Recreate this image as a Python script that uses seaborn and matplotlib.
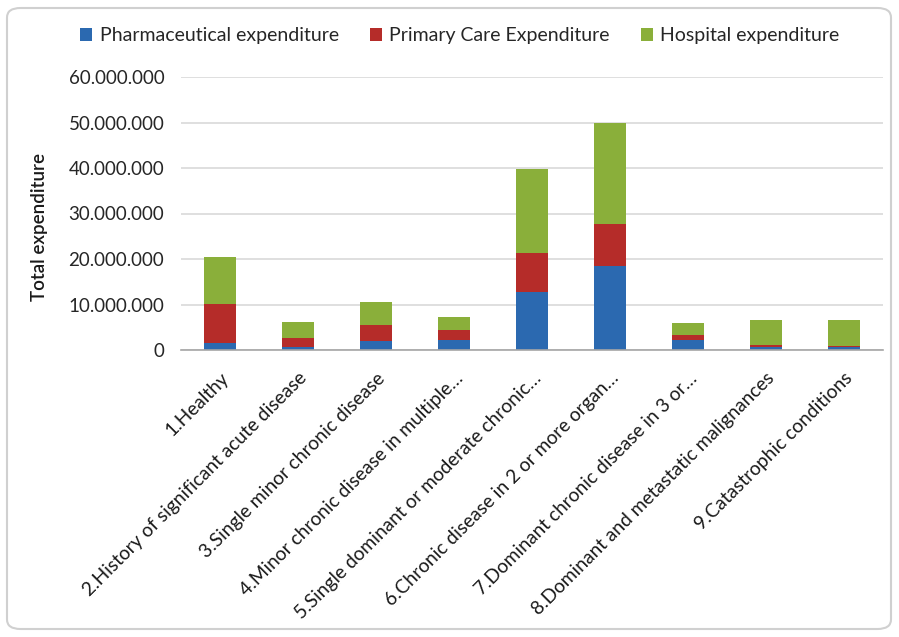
import matplotlib
matplotlib.use("Agg")
import matplotlib.pyplot as plt
import seaborn as sns
import pandas as pd
import numpy as np
from matplotlib.patches import FancyBboxPatch, Patch
from matplotlib.ticker import FuncFormatter

categories = [
    "1.Healthy",
    "2.History of significant acute disease",
    "3.Single minor chronic disease",
    "4.Minor chronic disease in multiple…",
    "5.Single dominant or moderate chronic…",
    "6.Chronic disease in 2 or more organ…",
    "7.Dominant chronic disease in 3 or…",
    "8.Dominant and metastatic malignances",
    "9.Catastrophic conditions",
]
pharmaceutical = [1.55e6, 0.65e6, 2.0e6, 2.2e6, 12.7e6, 18.5e6, 2.2e6, 0.7e6, 0.6e6]
primary_care = [8.65e6, 2.05e6, 3.5e6, 2.3e6, 8.7e6, 9.3e6, 1.1e6, 0.4e6, 0.35e6]
hospital = [10.2e6, 3.45e6, 5.0e6, 2.8e6, 18.3e6, 22.0e6, 2.6e6, 5.6e6, 5.75e6]
series_names = ["Pharmaceutical expenditure", "Primary Care Expenditure", "Hospital expenditure"]
colors = ["#2B69B0", "#B52C29", "#8AAF3A"]

sns.set_theme(style="white")
plt.rcParams["font.family"] = ["Lato", "DejaVu Sans"]

df = pd.DataFrame({"category": categories,
                   "pharma": pharmaceutical,
                   "primary": primary_care,
                   "hospital": hospital})
df["c1"] = df["pharma"]
df["c2"] = df["c1"] + df["primary"]
df["c3"] = df["c2"] + df["hospital"]

fig = plt.figure(figsize=(8.99, 6.37), dpi=100)
ax = fig.add_axes([181/899, 1 - 350/637, (883-181)/899, (350-77)/637])

for col, c in zip(["c3", "c2", "c1"], [colors[2], colors[1], colors[0]]):
    sns.barplot(data=df, x="category", y=col, color=c, width=0.4,
                saturation=1, ax=ax, zorder=3, linewidth=0)

ax.set_ylim(0, 60e6)
ax.set_xlim(-0.5, len(categories) - 0.5)
ax.set_yticks(np.arange(0, 60e6 + 1, 10e6))
ax.yaxis.set_major_formatter(FuncFormatter(lambda v, p: f"{int(v):,}".replace(",", ".")))
ax.grid(axis="y", color="#D9D9D9", linewidth=1.2, zorder=0)
ax.set_axisbelow(True)
for s in ["top", "right", "left"]:
    ax.spines[s].set_visible(False)
ax.spines["bottom"].set_color("#A6A6A6")
ax.spines["bottom"].set_linewidth(1.2)
ax.spines["bottom"].set_zorder(4)

ax.tick_params(axis="y", length=0, labelsize=13.5, labelcolor="#262626", pad=12)
ax.set_xticks(np.arange(len(categories)))
ax.set_xticklabels(categories, rotation=45, ha="right", rotation_mode="anchor",
                   fontsize=13.8, color="#1a1a1a")
ax.tick_params(axis="x", length=0, pad=14)
ax.set_xticks(np.arange(-0.5, len(categories), 1.0), minor=True)
ax.tick_params(axis="x", which="minor", length=6, color="#A6A6A6", width=1.2, direction="out")

ax.set_xlabel("")
ax.set_ylabel("Total expenditure", fontsize=13.5, color="#1a1a1a", fontweight="semibold")
ax.yaxis.set_label_coords((48 - 181) / (883 - 181), (350 - 227) / (350 - 77))

handles = [Patch(facecolor=c, edgecolor="none") for c in colors]
fig.legend(handles, series_names, loc="center", bbox_to_anchor=(460/899, 1 - 36/637),
           ncol=3, frameon=False, fontsize=14, handlelength=0.6, handleheight=0.6,
           handletextpad=0.4, columnspacing=1.6)

border = FancyBboxPatch((7/899, 8/637), 884/899, 621/637,
                        boxstyle="round,pad=0,rounding_size=0.015",
                        transform=fig.transFigure, facecolor="none",
                        edgecolor="#D0D0D0", linewidth=1.5)
fig.patches.append(border)

fig.savefig("out.png", dpi=100)
